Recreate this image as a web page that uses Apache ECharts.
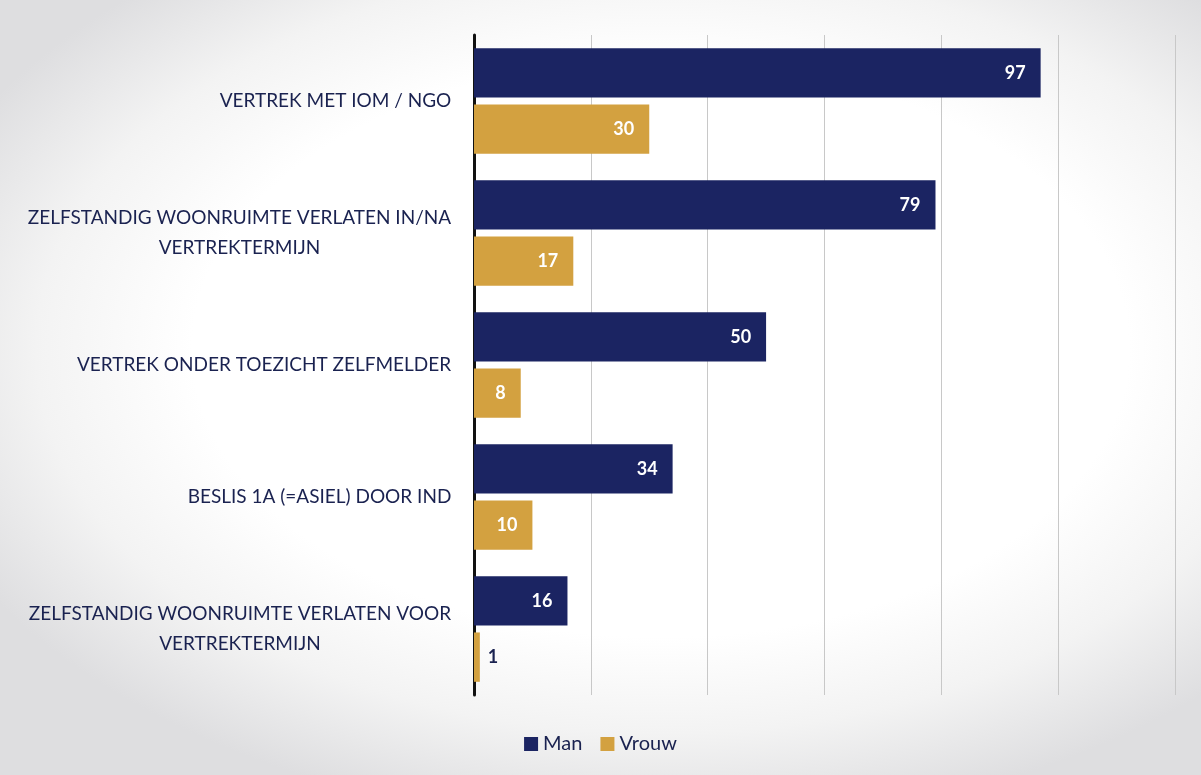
<!DOCTYPE html>
<html><head><meta charset="utf-8">
<script src="https://cdn.jsdelivr.net/npm/echarts@6/dist/echarts.min.js"></script>
<style>
html,body{margin:0;padding:0;}
body{width:1201px;height:775px;overflow:hidden;
background:radial-gradient(ellipse 65% 62% at 55% 45%, #ffffff 60%, #f3f3f3 80%, #dedee0 100%);}
#c{width:1201px;height:775px;}
</style></head>
<body><div id="c"></div>
<script>
const categories = [
  "VERTREK MET IOM / NGO",
  "ZELFSTANDIG WOONRUIMTE VERLATEN IN/NA\nVERTREKTERMIJN",
  "VERTREK ONDER TOEZICHT ZELFMELDER",
  "BESLIS 1A (=ASIEL) DOOR IND",
  "ZELFSTANDIG WOONRUIMTE VERLATEN VOOR\nVERTREKTERMIJN"
];
const manValues = [97, 79, 50, 34, 16];
const vrouwValues = [30, 17, 8, 10, 1];
const seriesNames = ["Man", "Vrouw"];

const NAVY = '#1b2462', GOLD = '#d3a140', TEXT = '#1a2250';
const FONT = 'Lato';
const LABEL_SIZE = 19;

// centre each label's lines within its own block
const ctx = document.createElement('canvas').getContext('2d');
ctx.font = LABEL_SIZE + 'px ' + FONT;
const rich = {};
categories.forEach((c, i) => {
  const w = Math.max(...c.split('\n').map(l => ctx.measureText(l).width));
  rich['r' + i] = {width: Math.ceil(w) + 1, align: 'center', fontSize: LABEL_SIZE, fontFamily: FONT, color: TEXT, lineHeight: 30};
});

const chart = echarts.init(document.getElementById('c'));
chart.setOption({
  backgroundColor: 'transparent',
  textStyle: {fontFamily: FONT},
  grid: {left: 474, right: 26, top: 35, bottom: 80, containLabel: false},
  xAxis: {type: 'value', min: 0, max: 120, interval: 20,
    axisLabel: {show: false}, axisLine: {show: false}, axisTick: {show: false},
    splitLine: {show: true, lineStyle: {color: '#c8c8c8', width: 1}}},
  yAxis: {type: 'category', data: categories, inverse: true,
    axisLine: {show: true, onZero: false, lineStyle: {color: '#111111', width: 3}},
    axisTick: {show: false},
    axisLabel: {color: TEXT, fontSize: LABEL_SIZE, fontFamily: FONT, margin: 22, lineHeight: 30, align: 'right',
      formatter: (v, i) => v.split('\n').map(l => '{r' + i + '|' + l + '}').join('\n'),
      rich: rich}},
  legend: {bottom: 16, left: 'center', itemWidth: 14, itemHeight: 14, itemGap: 18,
    icon: 'rect', textStyle: {color: TEXT, fontSize: 20, fontFamily: FONT}, data: seriesNames},
  series: [
    {name: seriesNames[0], type: 'bar', data: manValues, barCategoryGap: '20%', barGap: '14%',
      itemStyle: {color: NAVY},
      label: {show: true, position: 'insideRight', color: '#ffffff', fontWeight: 'bold', fontSize: 18, distance: 15, fontFamily: FONT}},
    {name: seriesNames[1], type: 'bar',
      data: vrouwValues.map(v => v < 5 ? {value: v, label: {position: 'right', color: TEXT, distance: 8}} : v),
      barCategoryGap: '20%', barGap: '14%',
      itemStyle: {color: GOLD},
      label: {show: true, position: 'insideRight', color: '#ffffff', fontWeight: 'bold', fontSize: 18, distance: 15, fontFamily: FONT}}
  ]
});
</script></body></html>
